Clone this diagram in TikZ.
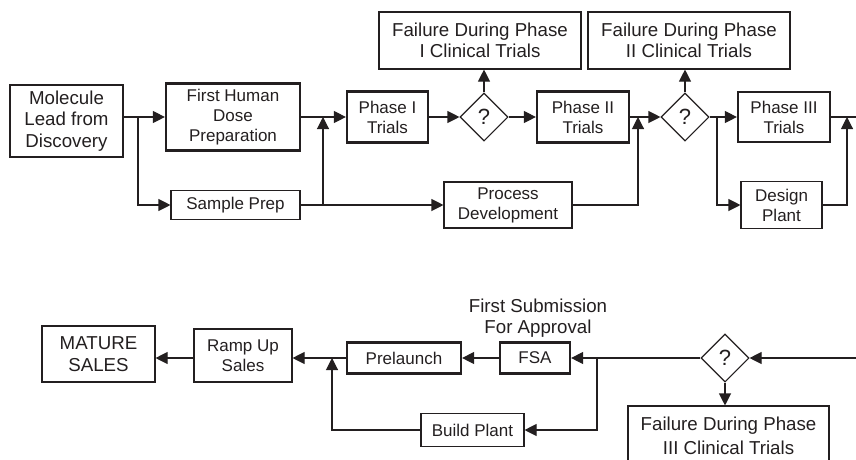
\documentclass[tikz,border=0pt]{standalone}
\usepackage{fontspec}
\setmainfont{Liberation Sans}
\usetikzlibrary{arrows.meta,shapes.geometric}
\definecolor{ink}{HTML}{231F20}
\newcommand\fsS{\fontsize{17}{20}\selectfont}
\newcommand\fsL{\fontsize{18.7}{21.5}\selectfont}
\begin{document}
\begin{tikzpicture}[x=1pt,y=-1pt,
 box/.style={draw=ink, text=ink, line width=1.1pt, align=center, inner sep=0pt, font=\fsS},
 bigbox/.style={box, font=\fsL},
 tbox/.style={box, line width=2.2pt},
 dec/.style={diamond, draw=ink, text=ink, line width=1.1pt, minimum width=48pt, minimum height=48pt, inner sep=0pt, font=\fontsize{22}{24}\selectfont},
 conn/.style={draw=ink, line width=1.1pt},
 arr/.style={conn, -{Triangle[length=12pt,width=12pt]}},
 lbl/.style={text=ink, align=center, inner sep=0pt, font=\fsL},
]
\useasboundingbox (0,0) rectangle (856,459);
\clip (0,0) rectangle (856,459);
% top row
\node[bigbox, minimum width=113pt, minimum height=72pt] (mol) at (66.5,121) {Molecule\\Lead from\\Discovery};
\node[tbox, minimum width=134pt, minimum height=67pt] (fhd) at (233,117) {First Human\\Dose\\Preparation};
\node[box, minimum width=129pt, minimum height=29pt] (sp) at (235.5,205) {Sample Prep};
\node[tbox, minimum width=81pt, minimum height=51pt] (ph1) at (387.5,117) {Phase I\\Trials};
\node[dec] (d1) at (484,117) {?};
\node[bigbox, minimum width=202pt, minimum height=57pt] (f1) at (480,40.5) {Failure During Phase\\I Clinical Trials};
\node[tbox, minimum width=92pt, minimum height=51pt] (ph2) at (583,117) {Phase II\\Trials};
\node[box, minimum width=128pt, minimum height=46pt] (pd) at (508,205) {Process\\Development};
\node[dec] (d2) at (685,117) {?};
\node[bigbox, minimum width=202pt, minimum height=57pt] (f2) at (689,40.5) {Failure During Phase\\II Clinical Trials};
\node[tbox, minimum width=92pt, minimum height=50pt] (ph3) at (784,117) {Phase III\\Trials};
\node[box, minimum width=81pt, minimum height=47pt] (dp) at (781.5,205) {Design\\Plant};
% bottom row
\node[dec] (d3) at (725,358) {?};
\node[bigbox, font=\fontsize{18.7}{24}\selectfont, minimum width=201pt, minimum height=59pt] (f3) at (728.5,435.5) {Failure During Phase\\III Clinical Trials};
\node[tbox, minimum width=70pt, minimum height=31pt] (fsa) at (535,358) {FSA};
\node[lbl] (fsal) at (538,318) {First Submission\\For Approval};
\node[tbox, minimum width=114pt, minimum height=31pt] (pre) at (404,358) {Prelaunch};
\node[box, minimum width=103pt, minimum height=33pt] (bp) at (472.5,430) {Build Plant};
\node[box, minimum width=98pt, minimum height=53pt] (ramp) at (243,355.5) {Ramp Up\\Sales};
\node[bigbox, minimum width=113pt, minimum height=56pt] (mat) at (98.5,354) {MATURE\\SALES};
% connectors top
\coordinate (j1) at (138,117);
\coordinate (j2) at (323,117);
\coordinate (j3) at (638,117);
\coordinate (j4) at (717,117);
\coordinate (j5) at (847,117);
\coordinate (rE) at (856,117);
\draw[arr] (mol.east |- j1) -- (fhd.west);
\draw[arr] (j1) |- (sp.west);
\draw[arr] (fhd.east) -- (ph1.west);
\draw[arr] (sp.east) -- (pd.west);
\draw[arr] (sp.east -| j2) -- (j2);
\draw[arr] (ph1.east) -- (d1.west);
\draw[arr] (d1.north) -- (f1.south -| d1.north);
\draw[arr] (d1.east) -- (ph2.west);
\draw[arr] (ph2.east) -- (d2.west);
\draw[arr] (pd.east) -| (j3);
\draw[arr] (d2.north) -- (f2.south -| d2.north);
\draw[arr] (d2.east) -- (ph3.west);
\draw[arr] (j4) |- (dp.west);
\draw[conn] (ph3.east) -- (rE);
\draw[arr] (dp.east) -| (j5);
% connectors bottom
\coordinate (rE2) at (856,358);
\coordinate (j6) at (597,358);
\coordinate (j7) at (332,358);
\draw[arr] (rE2) -- (d3.east);
\draw[arr] (d3.south) -- (f3.north -| d3.south);
\draw[arr] (d3.west) -- (fsa.east);
\draw[arr] (j6) |- (bp.east);
\draw[arr] (fsa.west) -- (pre.east);
\draw[arr] (pre.west) -- (ramp.east |- pre.west);
\draw[arr] (bp.west) -| (j7);
\draw[arr] (ramp.west |- pre.west) -- (mat.east |- pre.west);
\end{tikzpicture}
\end{document}
